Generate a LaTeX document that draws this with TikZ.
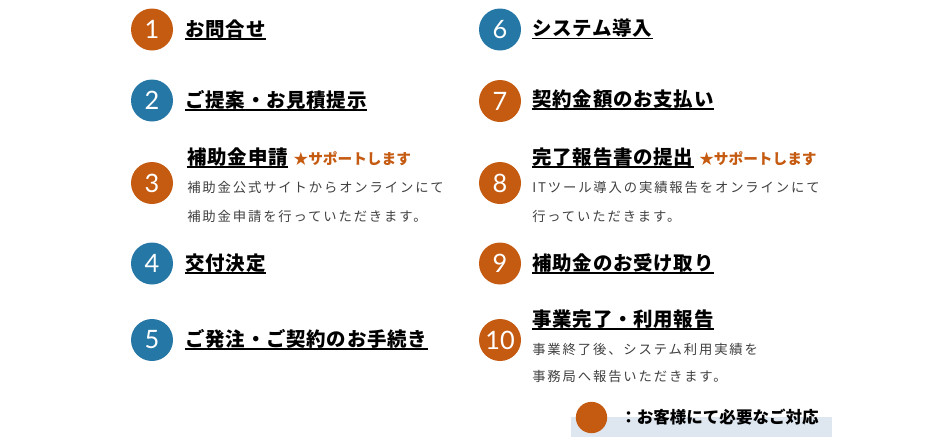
\documentclass[tikz,border=0pt]{standalone}
\usepackage{fontspec}
\newfontfamily\jp{Noto Sans CJK JP}
\newfontfamily\jpt[LetterSpace=4]{Noto Sans CJK JP}
\newfontfamily\jpdesc[LetterSpace=14]{Noto Sans CJK JP}
\newfontfamily\numfont{Lato}
\definecolor{cor}{HTML}{C55A11}
\definecolor{cbl}{HTML}{2577A6}
\definecolor{cdesc}{HTML}{404040}
\definecolor{clegend}{HTML}{DEE6EF}
\tikzset{
  numc/.style={circle,inner sep=0pt,minimum size=31.5pt,text=white,font=\numfont\fontsize{19pt}{19pt}\selectfont},
  orc/.style={numc,fill=cor},
  blc/.style={numc,fill=cbl},
  ttl/.style={anchor=base west,inner sep=0pt,font=\jpt\bfseries\fontsize{14.6pt}{14.6pt}\selectfont,text=black},
  sup/.style={anchor=base west,inner sep=0pt,font=\jp\bfseries\fontsize{11pt}{11pt}\selectfont,text=cor},
  dsc/.style={anchor=base west,inner sep=0pt,font=\jpdesc\fontsize{10pt}{10pt}\selectfont,text=cdesc},
  uline/.style={line width=1.1pt,black}
}
\newcommand{\ul}[1]{\draw[uline] ([yshift=-2.4pt]#1.base west) -- ([yshift=-2.4pt]#1.base east);}
\begin{document}
\begin{tikzpicture}[x=0.75pt,y=-0.75pt]
\useasboundingbox (0,0) rectangle (943,437);
% legend background
\fill[clegend] (571,417) rectangle (832,437);
% circles
\node[orc] (c1) at (152,29.5) {1};
\node[blc] (c2) at (152,100.5) {2};
\node[orc] (c3) at (152,183) {3};
\node[blc] (c4) at (152,263.5) {4};
\node[blc] (c5) at (152,340) {5};
\node[blc] (c6) at (500,29.5) {6};
\node[orc] (c7) at (500,101) {7};
\node[orc] (c8) at (500,183) {8};
\node[orc] (c9) at (500,263.5) {9};
\node[orc] (c10) at (500,340) {10};
\node[circle,fill=cor,inner sep=0pt,minimum size=23.5pt] (lg) at (591.5,417.5) {};
% titles left
\node[ttl] (t1) at (185,36) {お問合せ};
\node[ttl] (t2) at (185,107) {ご提案・お見積提示};
\node[ttl] (t3) at (187,164) {補助金申請};
\node[sup] (s3) at ([xshift=4pt]t3.base east) {★サポートします};
\node[dsc] (d3a) at (187,192.5) {補助金公式サイトからオンラインにて};
\node[dsc] (d3b) at (187,221) {補助金申請を行っていただきます。};
\node[ttl] (t4) at (185,270) {交付決定};
\node[ttl] (t5) at (185,346) {ご発注・ご契約のお手続き};
% titles right
\node[ttl] (t6) at (532,35.5) {システム導入};
\node[ttl] (t7) at (532,106) {契約金額のお支払い};
\node[ttl] (t8) at (532,164) {完了報告書の提出};
\node[sup] (s8) at ([xshift=4pt]t8.base east) {★サポートします};
\node[dsc] (d8a) at (532,192.5) {ITツール導入の実績報告をオンラインにて};
\node[dsc] (d8b) at (532,221) {行っていただきます。};
\node[ttl] (t9) at (532,270) {補助金のお受け取り};
\node[ttl] (t10) at (532,326) {事業完了・利用報告};
\node[dsc] (d10a) at (532,354.5) {事業終了後、システム利用実績を};
\node[dsc] (d10b) at (532,381.5) {事務局へ報告いただきます。};
% legend text
\node[anchor=base west,inner sep=0pt,font=\jp\bfseries\fontsize{12.4pt}{12.4pt}\selectfont] (lt) at (620,423.5) {：お客様にて必要なご対応};
% underlines
\ul{t1}\ul{t2}\ul{t3}\ul{t4}\ul{t5}\ul{t6}\ul{t7}\ul{t8}\ul{t9}\ul{t10}
\end{tikzpicture}
\end{document}
